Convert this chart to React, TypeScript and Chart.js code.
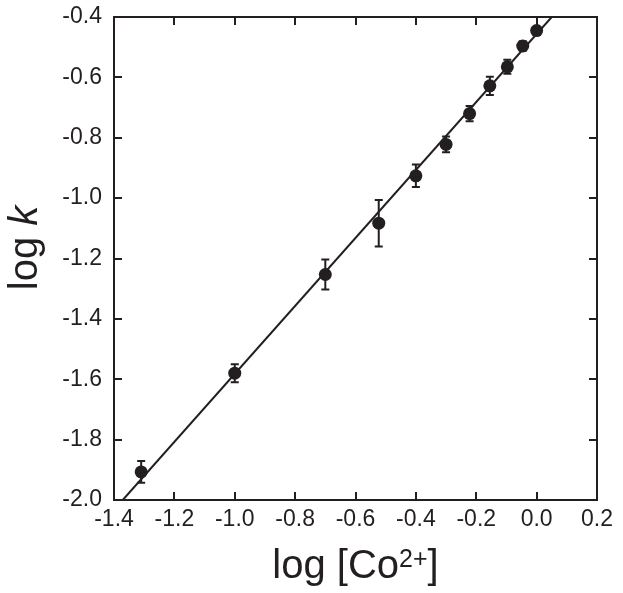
import React, { useEffect, useRef } from "react";
import { Chart, registerables } from "chart.js";

Chart.register(...registerables);

// Data
const logCo: number[] = [-1.31, -1.0, -0.70, -0.523, -0.40, -0.30, -0.222, -0.155, -0.097, -0.046, 0.0];
const logK: number[] = [-1.907, -1.58, -1.253, -1.083, -0.926, -0.822, -0.720, -0.628, -0.565, -0.496, -0.445];
const logKErr: number[] = [0.036, 0.03, 0.05, 0.077, 0.037, 0.026, 0.025, 0.03, 0.023, 0.016, 0.01];
// Linear fit line endpoints
const fitX: number[] = [-1.371, 0.05];
const fitY: number[] = [-2.0, -0.4];
// Axis ticks
const xTicks: number[] = [-1.4, -1.2, -1.0, -0.8, -0.6, -0.4, -0.2, 0.0, 0.2];
const yTicks: number[] = [-2.0, -1.8, -1.6, -1.4, -1.2, -1.0, -0.8, -0.6, -0.4];

const INK = "#231f20";
const FONT = "'Liberation Sans', Arial, Helvetica, sans-serif";

const errorBarPlugin = {
  id: "errorBars",
  beforeDatasetsDraw(chart: any) {
    const ctx = chart.ctx;
    const xs = chart.scales.x;
    const ys = chart.scales.y;
    ctx.save();
    ctx.strokeStyle = INK;
    ctx.lineWidth = 2;
    logCo.forEach((xv, i) => {
      const px = xs.getPixelForValue(xv);
      const top = ys.getPixelForValue(logK[i] + logKErr[i]);
      const bot = ys.getPixelForValue(logK[i] - logKErr[i]);
      ctx.beginPath();
      ctx.moveTo(px, top);
      ctx.lineTo(px, bot);
      ctx.moveTo(px - 4, top);
      ctx.lineTo(px + 4, top);
      ctx.moveTo(px - 4, bot);
      ctx.lineTo(px + 4, bot);
      ctx.stroke();
    });
    ctx.restore();
  },
};

const framePlugin = {
  id: "frameAndTitles",
  afterDraw(chart: any) {
    const ctx = chart.ctx;
    const a = chart.chartArea;
    const xs = chart.scales.x;
    const ys = chart.scales.y;
    const tl = 8;
    ctx.save();
    ctx.strokeStyle = INK;
    ctx.lineWidth = 2;
    ctx.strokeRect(a.left, a.top, a.right - a.left, a.bottom - a.top);
    ctx.beginPath();
    xTicks.forEach((v) => {
      const px = Math.round(xs.getPixelForValue(v));
      ctx.moveTo(px, a.bottom);
      ctx.lineTo(px, a.bottom - tl);
      ctx.moveTo(px, a.top);
      ctx.lineTo(px, a.top + tl);
    });
    yTicks.forEach((v) => {
      const py = Math.round(ys.getPixelForValue(v));
      ctx.moveTo(a.left, py);
      ctx.lineTo(a.left + tl, py);
      ctx.moveTo(a.right, py);
      ctx.lineTo(a.right - tl, py);
    });
    ctx.stroke();

    // X axis title: log [Co2+]
    ctx.fillStyle = INK;
    ctx.textBaseline = "alphabetic";
    ctx.textAlign = "left";
    const big = `40px ${FONT}`;
    const small = `25px ${FONT}`;
    ctx.font = big;
    const p1 = "log [Co";
    const p3 = "]";
    const w1 = ctx.measureText(p1).width;
    const w3 = ctx.measureText(p3).width;
    ctx.font = small;
    const p2 = "2+";
    const w2 = ctx.measureText(p2).width;
    const total = w1 + w2 + w3;
    const cx = (a.left + a.right) / 2;
    const base = 578;
    let x0 = cx - total / 2;
    ctx.font = big;
    ctx.fillText(p1, x0, base);
    ctx.font = small;
    ctx.fillText(p2, x0 + w1, base - 11);
    ctx.font = big;
    ctx.fillText(p3, x0 + w1 + w2, base);

    // Y axis title: log k (k italic)
    ctx.translate(37, 248);
    ctx.rotate(-Math.PI / 2);
    ctx.font = big;
    const q1 = "log ";
    const wq1 = ctx.measureText(q1).width;
    ctx.font = `italic 40px ${FONT}`;
    const q2 = "k";
    const wq2 = ctx.measureText(q2).width;
    const t2 = wq1 + wq2;
    ctx.font = big;
    ctx.fillText(q1, -t2 / 2, 0);
    ctx.font = `italic 40px ${FONT}`;
    ctx.fillText(q2, -t2 / 2 + wq1, 0);
    ctx.restore();
  },
};

export default function App() {
  const canvasRef = useRef<HTMLCanvasElement | null>(null);

  useEffect(() => {
    if (!canvasRef.current) return;
    const chart = new Chart(canvasRef.current, {
      type: "scatter",
      data: {
        datasets: [
          {
            label: "data",
            data: logCo.map((x, i) => ({ x, y: logK[i] })),
            pointRadius: 6.5,
            pointHoverRadius: 6.5,
            pointBackgroundColor: INK,
            pointBorderColor: INK,
            pointBorderWidth: 0,
            showLine: false,
            order: 1,
          },
          {
            label: "fit",
            data: fitX.map((x, i) => ({ x, y: fitY[i] })),
            showLine: true,
            borderColor: INK,
            borderWidth: 2,
            pointRadius: 0,
            fill: false,
            order: 2,
          },
        ],
      },
      options: {
        animation: false,
        responsive: true,
        maintainAspectRatio: false,
        layout: { padding: { top: 17, right: 26, left: 0, bottom: 0 } },
        plugins: {
          legend: { display: false },
          tooltip: { enabled: false },
        },
        scales: {
          x: {
            type: "linear",
            min: -1.4,
            max: 0.2,
            afterBuildTicks: (scale: any) => {
              scale.ticks = xTicks.map((v) => ({ value: v }));
            },
            afterFit: (scale: any) => {
              scale.height = 93;
              scale.paddingLeft = 0;
              scale.paddingRight = 0;
            },
            grid: { display: false, drawTicks: false },
            border: { display: false },
            ticks: {
              padding: 6,
              color: INK,
              font: { family: FONT, size: 23 },
              maxRotation: 0,
              autoSkip: false,
              callback: (v: any) => Number(v).toFixed(1),
            },
          },
          y: {
            type: "linear",
            min: -2.0,
            max: -0.4,
            afterBuildTicks: (scale: any) => {
              scale.ticks = yTicks.map((v) => ({ value: v }));
            },
            afterFit: (scale: any) => {
              scale.width = 114;
              scale.paddingTop = 0;
              scale.paddingBottom = 0;
            },
            grid: { display: false, drawTicks: false },
            border: { display: false },
            ticks: {
              padding: 12,
              color: INK,
              font: { family: FONT, size: 23 },
              autoSkip: false,
              callback: (v: any) => Number(v).toFixed(1),
            },
          },
        },
      },
      plugins: [errorBarPlugin, framePlugin],
    });
    return () => chart.destroy();
  }, []);

  return (
    <div style={{ position: "fixed", left: 0, top: 0, width: 623, height: 593, background: "#fff" }}>
      <canvas ref={canvasRef} />
    </div>
  );
}
